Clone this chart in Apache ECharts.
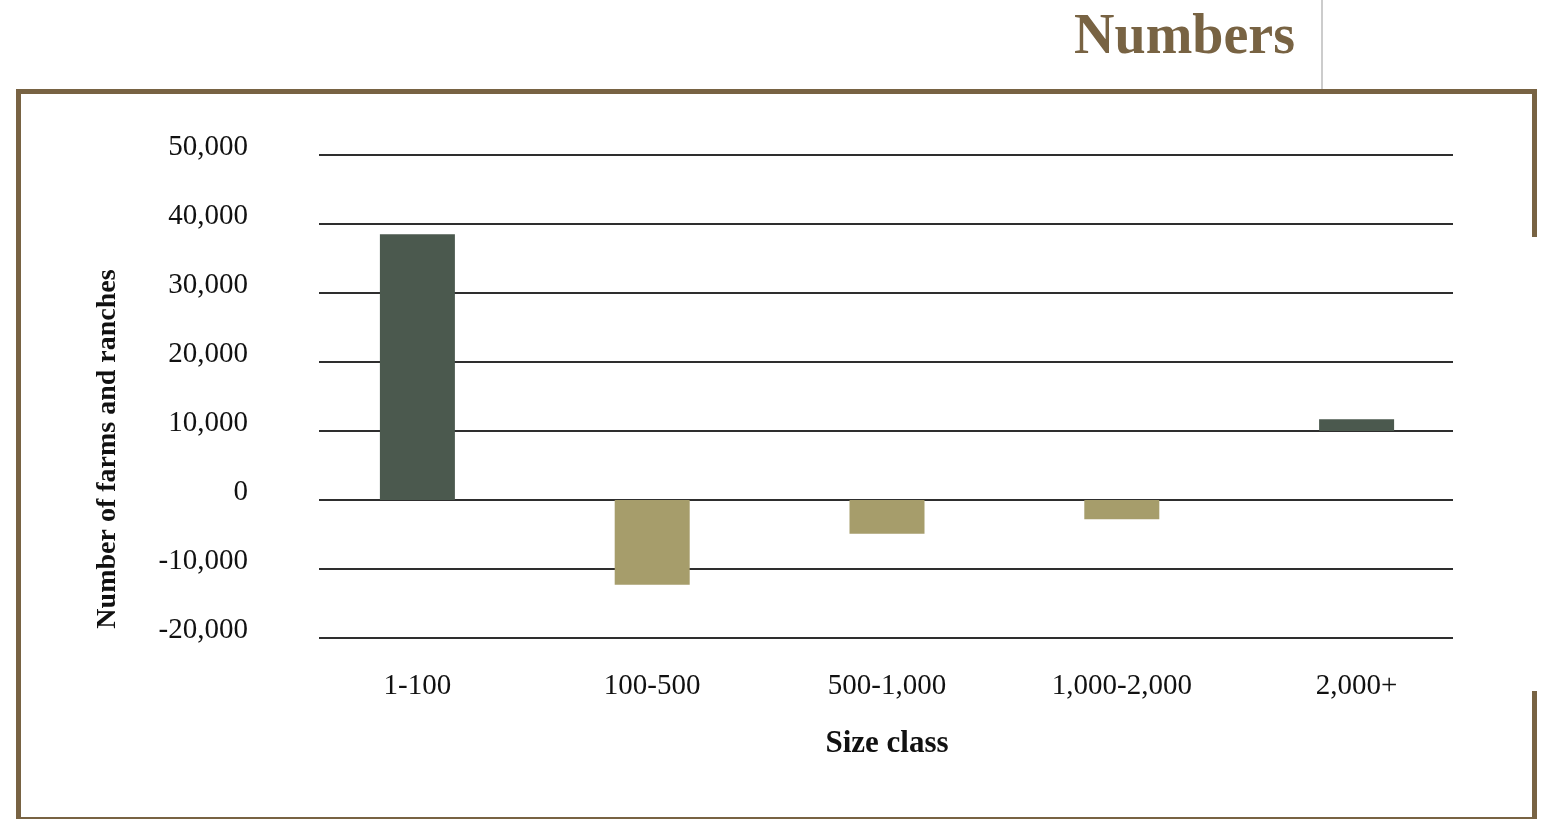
<!DOCTYPE html>
<html>
<head>
<meta charset="utf-8">
<title>Numbers</title>
<script src="https://cdn.jsdelivr.net/npm/echarts@6/dist/echarts.min.js"></script>
<style>
  html, body { margin: 0; padding: 0; background: #fff; }
  #chart { width: 1541px; height: 819px; }
</style>
</head>
<body>
<div id="chart"></div>
<script>
// size classes (acres) and change in number of farms and ranches
const sizeClasses = ['1-100', '100-500', '500-1,000', '1,000-2,000', '2,000+']
const changeValues = [38500, -12300, -4900, -2800, 1700]
// the last bar floats above the 10,000 line in the original graphic
const floatBase = [0, 0, 0, 0, 10000]
const yTicks = { min: -20000, max: 50000, interval: 10000 }

const serif = '"Liberation Serif", "DejaVu Serif", serif'
const brown = '#786343'
const darkGreen = '#4b594e'
const tan = '#a69d6b'

const chart = echarts.init(document.getElementById('chart'))

const option = {
    animation: false,
    textStyle: { fontFamily: serif },
    grid: [
        // bars
        { left: 300, right: 67, top: 155, bottom: 181 },
        // split lines and tick labels
        { left: 319, right: 88, top: 155, bottom: 181 }
    ],
    xAxis: [{
        gridIndex: 0,
        type: 'category',
        data: sizeClasses,
        axisLine: { show: false },
        axisTick: { show: false },
        axisLabel: {
            color: '#111',
            fontSize: 29,
            fontFamily: serif,
            margin: 34
        },
        name: 'Size class',
        nameLocation: 'middle',
        nameGap: 90,
        nameTextStyle: { color: '#111', fontSize: 31, fontWeight: 'bold', fontFamily: serif }
    }, {
        gridIndex: 1,
        type: 'value',
        min: 0,
        max: 1,
        show: false
    }],
    yAxis: [{
        gridIndex: 0,
        type: 'value',
        min: yTicks.min,
        max: yTicks.max,
        interval: yTicks.interval,
        axisLine: { show: false },
        axisTick: { show: false },
        axisLabel: { show: false },
        splitLine: { show: false }
    }, {
        gridIndex: 1,
        type: 'value',
        min: yTicks.min,
        max: yTicks.max,
        interval: yTicks.interval,
        axisLine: { show: false },
        axisTick: { show: false },
        axisLabel: {
            color: '#111',
            fontSize: 29,
            fontFamily: serif,
            margin: 71,
            verticalAlign: 'bottom',
            lineHeight: 16,
            formatter: v => v.toLocaleString('en-US')
        },
        splitLine: { lineStyle: { color: '#2e2e2e', width: 2 } }
    }],
    series: [{
        name: 'base',
        type: 'bar',
        stack: 'change',
        xAxisIndex: 0,
        yAxisIndex: 0,
        barWidth: 75,
        data: floatBase,
        itemStyle: { color: 'transparent' },
        silent: true
    }, {
        name: 'Change',
        type: 'bar',
        stack: 'change',
        xAxisIndex: 0,
        yAxisIndex: 0,
        barWidth: 75,
        data: changeValues,
        itemStyle: {
            color: p => (p.value >= 0 ? darkGreen : tan)
        }
    }],
    graphic: [
        // title
        {
            type: 'text',
            right: 246,
            top: 11,
            style: {
                text: 'Numbers',
                fill: brown,
                font: 'bold 56px ' + serif
            }
        },
        // thin grey divider next to title
        {
            type: 'rect',
            shape: { x: 1321, y: 0, width: 2, height: 89 },
            style: { fill: '#cccccc' }
        },
        // frame: top, left, right (broken), bottom
        { type: 'rect', shape: { x: 16, y: 89, width: 1521, height: 5 }, style: { fill: brown } },
        { type: 'rect', shape: { x: 16, y: 89, width: 5, height: 730 }, style: { fill: brown } },
        { type: 'rect', shape: { x: 1532, y: 89, width: 5, height: 148 }, style: { fill: brown } },
        { type: 'rect', shape: { x: 1532, y: 691, width: 5, height: 128 }, style: { fill: brown } },
        { type: 'rect', shape: { x: 16, y: 817, width: 1521, height: 2 }, style: { fill: brown } },
        // y axis title
        {
            type: 'text',
            x: 108,
            y: 449,
            rotation: Math.PI / 2,
            style: {
                text: 'Number of farms and ranches',
                fill: '#111',
                font: 'bold 28px ' + serif,
                align: 'center',
                verticalAlign: 'middle'
            }
        }
    ]
}

chart.setOption(option)
</script>
</body>
</html>
